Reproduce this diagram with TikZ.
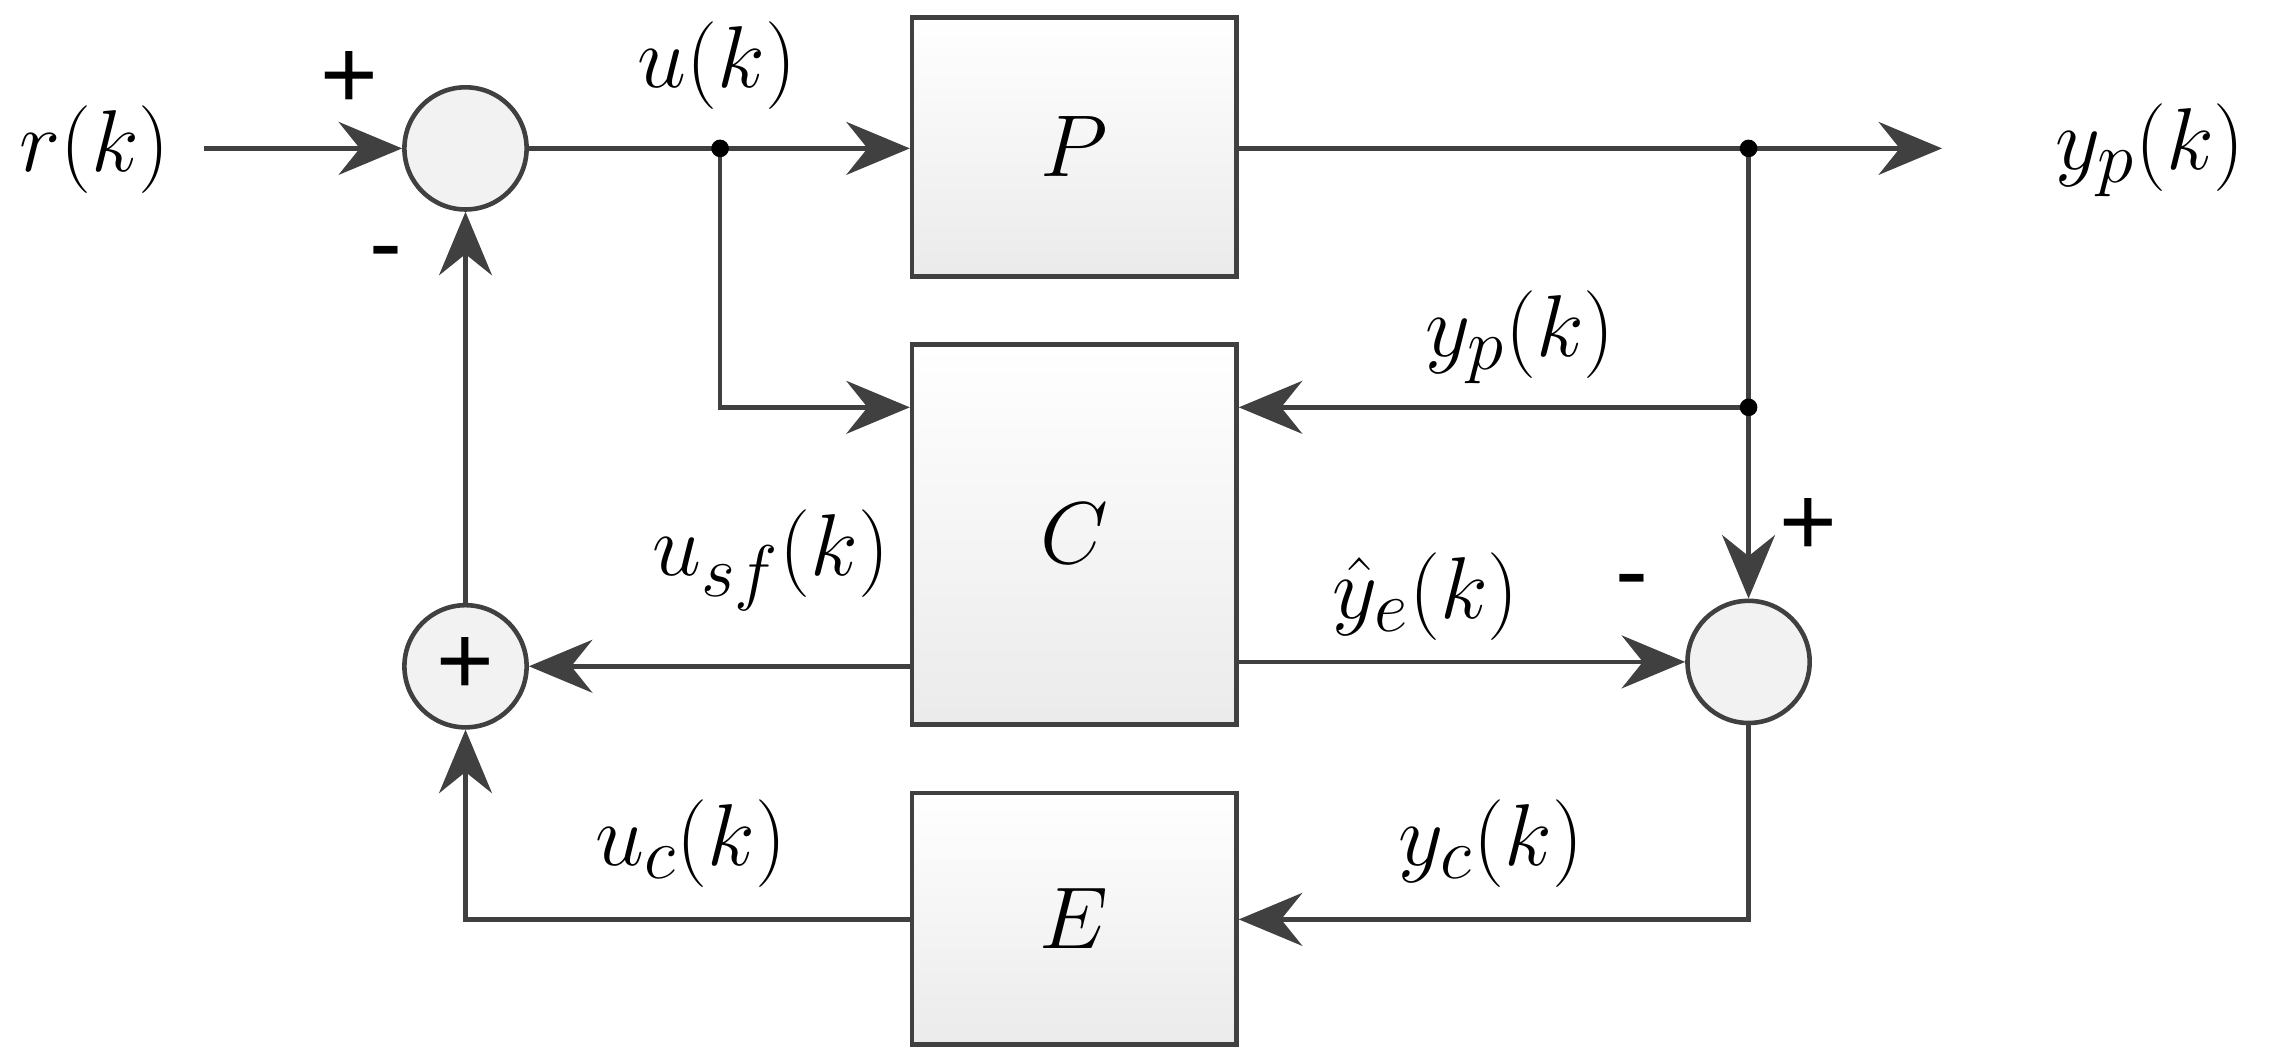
\documentclass[tikz,border=0pt]{standalone}
\usepackage{fontspec}
\newfontfamily\sansf{Liberation Sans}
\usetikzlibrary{arrows.meta}
\begin{document}
\begin{tikzpicture}[x=0.0145cm,y=-0.0145cm,
  ln/.style={draw=black!75,line width=1.3pt},
  arr/.style={ln,-{Stealth[length=18pt,width=15pt,inset=6pt]}},
  blk/.style={draw=black!75,line width=1.3pt,top color=white,bottom color=black!8,minimum width=223*0.0145cm,inner sep=0pt},
  sm/.style={circle,draw=black!75,line width=1.3pt,fill=black!5,minimum size=84*0.0145cm,inner sep=0pt},
  lab/.style={font=\fontsize{30}{34}\selectfont,inner sep=1pt},
  sg/.style={font=\sansf\fontsize{28}{32}\selectfont},
  dot/.style={circle,fill=black,inner sep=0pt,minimum size=5pt}]
\useasboundingbox (0,0) rectangle (1568,728);
\node[blk,minimum height=178*0.0145cm,lab] (P) at (738.5,101) {$P$};
\node[blk,minimum height=261*0.0145cm,lab] (C) at (738.5,367.5) {};
\node[lab] at (738.5,367) {$C$};
\node[blk,minimum height=173*0.0145cm,lab] (E) at (738.5,631.5) {$E$};
\node[sm] (s1) at (320,102) {};
\node[sm] (s2) at (1202,455) {};
\node[sm,sg] (s3) at (320,458) {+};
\node[lab] (r) at (65,103) {$r(k)$};
\node[lab] (yp) at (1478,103) {$y_p(k)$};
\coordinate (d1) at (495,102);
\coordinate (d2) at (1202,102);
\coordinate (d3) at (1202,280);
\coordinate (oe) at (1335,102);
\coordinate (c1) at (495,280);
\coordinate (c2) at (1202,632);
\coordinate (c3) at (320,632);
\draw[arr] (140,102) -- (s1);
\draw[arr] (s1) -- (P.west |- s1);
\draw[arr] (P.east |- d2) -- (oe);
\draw[arr] (d1) -- (c1) -- (C.west |- c1);
\draw[ln] (d2) -- (d3);
\draw[arr] (d3) -- (C.east |- d3);
\draw[arr] (d3) -- (s2);
\draw[arr] (C.east |- s2) -- (s2);
\draw[arr] (C.west |- s3) -- (s3);
\draw[arr] (s3) -- (s1);
\draw[arr] (s2) -- (c2) -- (E.east |- c2);
\draw[arr] (E.west |- c3) -- (c3) -- (s3);
\node[dot] at (d1) {};
\node[dot] at (d2) {};
\node[dot] at (d3) {};
\node[lab] at (493,45) {$u(k)$};
\node[lab] at (1045,232) {$y_p(k)$};
\node[lab] at (530,385) {$u_{sf}(k)$};
\node[lab] at (980,410) {$\hat y_e(k)$};
\node[lab] at (1025,580) {$y_c(k)$};
\node[lab] at (475,580) {$u_c(k)$};
\node[sg] at (240,55) {+};
\node[sg] at (265,180) {-};
\node[sg] at (1243,362) {+};
\node[sg] at (1122,405) {-};
\end{tikzpicture}
\end{document}
